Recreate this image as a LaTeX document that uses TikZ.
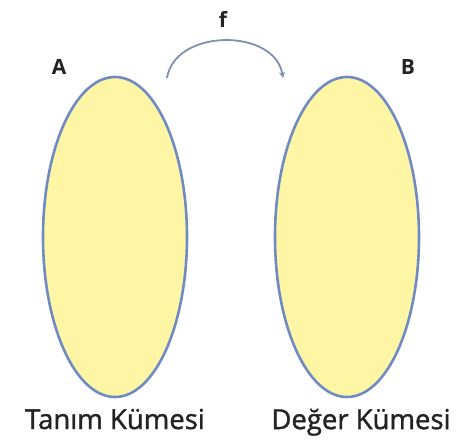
\documentclass[tikz,border=0pt]{standalone}
\usepackage{fontspec}
\setmainfont{Open Sans}
\usepackage{xcolor}
\usetikzlibrary{arrows.meta, positioning, shapes.geometric}

\definecolor{kumefill}{RGB}{255,246,165}
\definecolor{kumeline}{RGB}{112,138,195}
\definecolor{okgri}{RGB}{125,145,175}
\definecolor{yazi}{RGB}{35,35,35}

\tikzset{
  kume/.style={ellipse, draw=kumeline, fill=kumefill, line width=2.6pt,
    minimum width=144pt, minimum height=320pt, inner sep=0pt},
  harf/.style={font=\fontsize{21}{21}\selectfont\bfseries, text=yazi},
  etiket/.style={font=\fontsize{27.5}{28}\selectfont\addfontfeatures{FakeBold=1.3}, text=yazi}
}

\begin{document}
\begin{tikzpicture}[>=Stealth, x=1pt, y=-1pt]
  \useasboundingbox (0,0) rectangle (458,443);

  % Kümeler
  \node[kume] (A) at (115,237) {};
  \node[kume] (B) at (347,237) {};

  % Harfler
  \node[harf] (hA) at (59,67) {A};
  \node[harf] (hB) at (408,67) {B};
  \node[harf] (hf) at (223,19) {f};

  % Eşleme oku
  \coordinate (basla) at (167,78);
  \coordinate (bitis) at (283,78);
  \draw[->, okgri, line width=1.8pt, >={Stealth[length=6pt, width=6pt]}]
    (basla) .. controls (175,28) and (275,28) .. (bitis);

  % Alt yazılar
  \node[etiket, below=7pt of A] (tanim) {Tanım Kümesi};
  \node[etiket, below=7pt of B, xshift=14pt] (deger) {Değer Kümesi};
\end{tikzpicture}
\end{document}
